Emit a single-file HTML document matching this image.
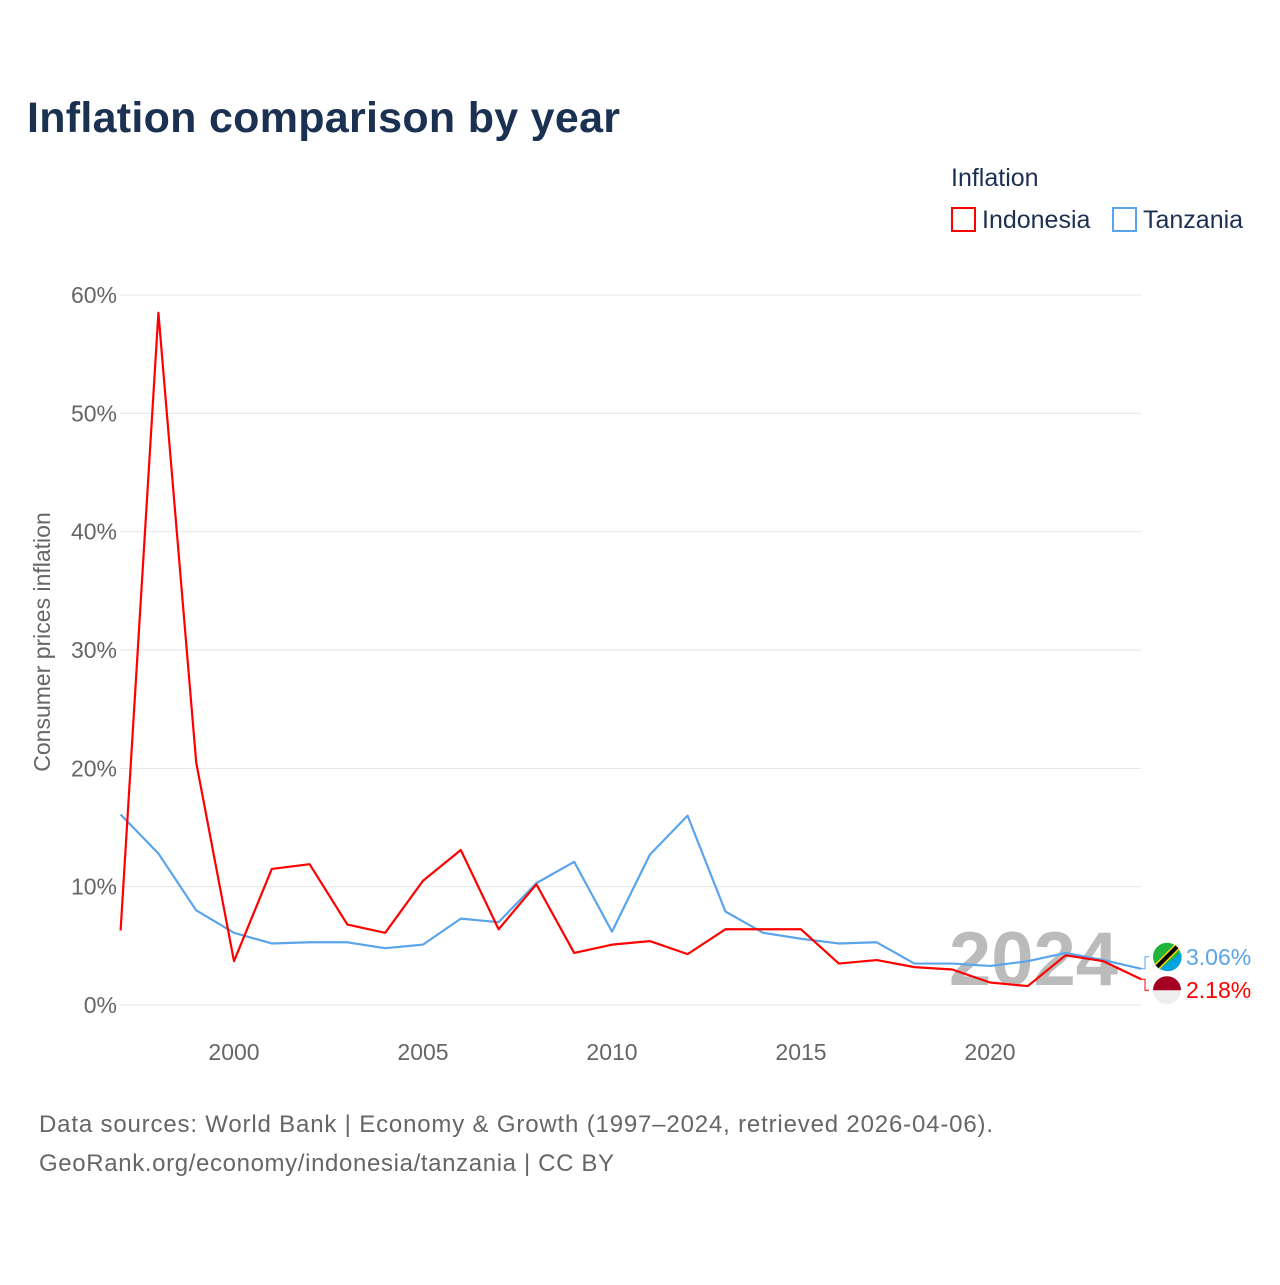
<!DOCTYPE html>
<html><head><meta charset="utf-8"><style>
body{margin:0;background:#fff;font-family:"Liberation Sans",sans-serif;}
svg text{font-family:"Liberation Sans",sans-serif;}
</style></head><body>
<svg id="chart" width="1280" height="1280" viewBox="0 0 1280 1280" xmlns="http://www.w3.org/2000/svg">
<text x="27" y="132" font-size="43" font-weight="bold" fill="#1b3152" textLength="593">Inflation comparison by year</text>
<text x="951" y="186" font-size="25" fill="#1b3152">Inflation</text>
<g><rect x="952" y="208" width="23" height="23" fill="none" stroke="#ff0000" stroke-width="2"/><text x="982" y="228" font-size="25" fill="#1b3152">Indonesia</text></g>
<g><rect x="1113" y="208" width="23" height="23" fill="none" stroke="#5aa5ea" stroke-width="2"/><text x="1143" y="228" font-size="25" fill="#1b3152">Tanzania</text></g>
<text transform="translate(50,642) rotate(-90)" text-anchor="middle" font-size="23" fill="#666">Consumer prices inflation</text>
<g id="grid"></g><g id="xt"></g>
<text x="1118" y="985" text-anchor="end" font-size="76" font-weight="bold" fill="#bbb">2024</text>
<g id="series"></g>
<text x="39" y="1132" font-size="24" fill="#666" textLength="954">Data sources: World Bank | Economy &amp; Growth (1997–2024, retrieved 2026-04-06).</text>
<text x="39" y="1171" font-size="24" fill="#666" textLength="575">GeoRank.org/economy/indonesia/tanzania | CC BY</text>
</svg>
<script>
const years=[1997,1998,1999,2000,2001,2002,2003,2004,2005,2006,2007,2008,2009,2010,2011,2012,2013,2014,2015,2016,2017,2018,2019,2020,2021,2022,2023,2024];
const indonesia=[6.3,58.5,20.5,3.7,11.5,11.9,6.8,6.1,10.5,13.1,6.4,10.2,4.4,5.1,5.4,4.3,6.4,6.4,6.4,3.5,3.8,3.2,3.0,1.9,1.6,4.2,3.7,2.18];
const tanzania=[16.1,12.8,8.0,6.1,5.2,5.3,5.3,4.8,5.1,7.3,7.0,10.3,12.1,6.2,12.7,16.0,7.9,6.1,5.6,5.2,5.3,3.5,3.5,3.3,3.7,4.4,3.8,3.06];
const yTicks=[0,10,20,30,40,50,60];
const xTicks=[2000,2005,2010,2015,2020];
const NS="http://www.w3.org/2000/svg";
const X=y=>120.6+(y-1997)*37.8;
const Y=v=>1005-v*11.833;
function mk(t,a,p){const e=document.createElementNS(NS,t);for(const k in a)e.setAttribute(k,a[k]);p.appendChild(e);return e;}
const grid=document.getElementById('grid');
yTicks.forEach(v=>{
  const l=mk('line',{x1:120,x2:1141,y1:Y(v),y2:Y(v),stroke:'#e6e6e6','stroke-width':1},grid);
  
  
  const t=mk('text',{x:117,y:Y(v)+8,'text-anchor':'end','font-size':23,fill:'#666'},grid);
  t.textContent=v+'%';
  
  
});
const xt=document.getElementById('xt');
xTicks.forEach(v=>{
  const t=mk('text',{x:X(v),y:1060,'text-anchor':'middle','font-size':23,fill:'#666'},xt);
  t.textContent=v;
  
  
});
const s=document.getElementById('series');
function line(vals,col,name){
  const p=mk('polyline',{points:vals.map((v,i)=>X(years[i])+','+Y(v)).join(' '),fill:'none',stroke:col,'stroke-width':2.2,'stroke-linejoin':'round'},s);
  
  
}
line(tanzania,'#5aa5ea','tanzania-line');
line(indonesia,'#ff0000','indonesia-line');
const last=years.length-1;
const yt=Y(tanzania[last])-12, yi=Y(indonesia[last])+11;
mk('path',{d:`M1141 ${Y(tanzania[last])} h4 V${yt} h4`,fill:'none',stroke:'#5aa5ea','stroke-width':1},s);
mk('path',{d:`M1141 ${Y(indonesia[last])} h4 V${yi} h4`,fill:'none',stroke:'#ff0000','stroke-width':1},s);
const ft=mk('g',{},s);
mk('circle',{cx:1167,cy:yt,r:14,fill:'#1eb53a'},ft);
mk('path',{d:`M1181 ${yt-4} A14 14 0 0 1 1160 ${yt+12} Z`,fill:'#00a3dd'},ft);
mk('line',{x1:1157,y1:yt+10,x2:1177,y2:yt-10,stroke:'#fcd116','stroke-width':7},ft);
mk('line',{x1:1157,y1:yt+10,x2:1177,y2:yt-10,stroke:'#000','stroke-width':4},ft);
const fi=mk('g',{},s);
mk('circle',{cx:1167,cy:yi,r:14,fill:'#eee'},fi);
mk('path',{d:`M1153 ${yi} A14 14 0 0 1 1181 ${yi} Z`,fill:'#a50021'},fi);
const lt=mk('text',{x:1186,y:yt+8,'font-size':23,fill:'#5aa5ea'},s);lt.textContent=tanzania[last].toFixed(2)+'%';

const li=mk('text',{x:1186,y:yi+8,'font-size':23,fill:'#ff0000'},s);li.textContent=indonesia[last].toFixed(2)+'%';

</script>
</body></html>
